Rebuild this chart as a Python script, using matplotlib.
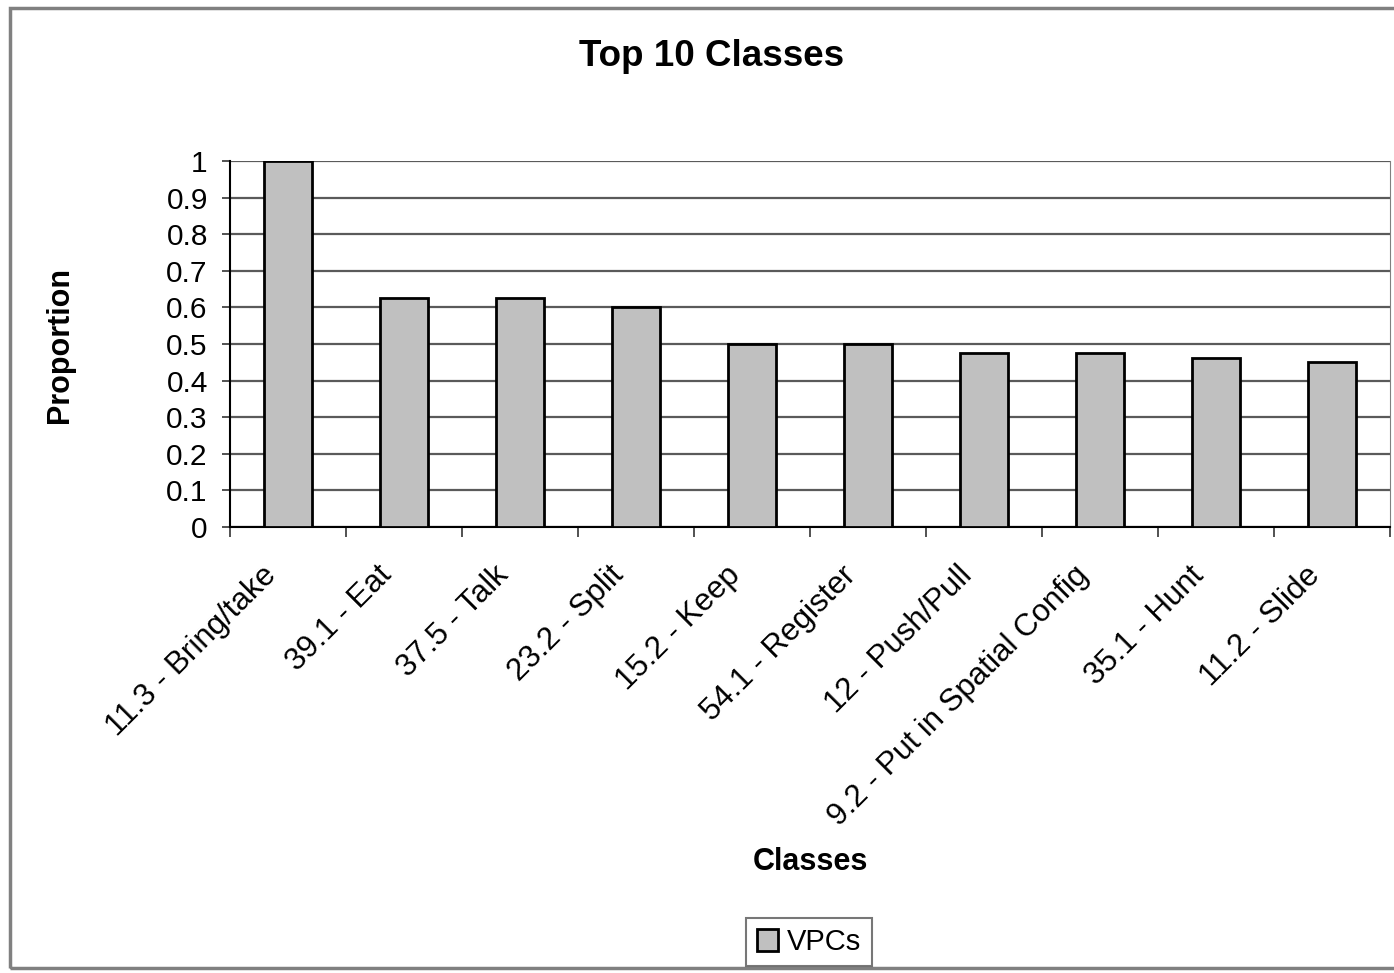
import matplotlib
matplotlib.use("Agg")
import matplotlib.pyplot as plt
from matplotlib.patches import Rectangle
from matplotlib.transforms import ScaledTranslation

categories = ["11.3 - Bring/take", "39.1 - Eat", "37.5 - Talk", "23.2 - Split", "15.2 - Keep",
              "54.1 - Register", "12 - Push/Pull", "9.2 - Put in Spatial Config", "35.1 - Hunt", "11.2 - Slide"]
values = [1.0, 0.625, 0.625, 0.6, 0.5, 0.5, 0.476, 0.476, 0.462, 0.45]
yticks = [0, 0.1, 0.2, 0.3, 0.4, 0.5, 0.6, 0.7, 0.8, 0.9, 1]
ytick_labels = ["0", "0.1", "0.2", "0.3", "0.4", "0.5", "0.6", "0.7", "0.8", "0.9", "1"]

plt.rcParams['font.family'] = ['Liberation Sans', 'DejaVu Sans']

W, H = 1394, 973
fig = plt.figure(figsize=(W / 100, H / 100), dpi=100)
fig.patch.set_facecolor("white")

# outer chart frame
fig.add_artist(Rectangle((10 / W, 1 - 968 / H), 1.2, (968 - 8) / H, transform=fig.transFigure,
                         fill=False, edgecolor="#808080", linewidth=2.5, clip_on=False))

ax = fig.add_axes([230 / W, 1 - 527 / H, (1390 - 230) / W, (527 - 161) / H])
x = list(range(len(categories)))
ax.bar(x, values, width=0.41, color="#c0c0c0", edgecolor="black", linewidth=2, zorder=3, label="VPCs")
ax.set_xlim(-0.5, len(categories) - 0.5)
ax.set_ylim(0, 1)
ax.set_yticks(yticks)
ax.set_yticklabels(ytick_labels, fontsize=21.5)
ax.yaxis.grid(True, color="#5a5a5a", linewidth=1.6, zorder=0)
ax.set_axisbelow(True)

ax.set_xticks(x)
ax.set_xticklabels(categories, rotation=45, ha="right", va="top", rotation_mode="anchor", fontsize=22.5)
ax.tick_params(axis="x", length=0, pad=24)
off = ScaledTranslation(-27 / 100, 0, fig.dpi_scale_trans)
for lbl in ax.get_xticklabels():
    lbl.set_transform(lbl.get_transform() + off)
ax.set_xticks([i - 0.5 for i in range(len(categories) + 1)], minor=True)
ax.tick_params(axis="x", which="minor", length=7, width=1.2, color="#333333")
ax.tick_params(axis="y", length=6, width=1.2, color="#333333", pad=10)

ax.spines["top"].set_visible(False)
ax.spines["right"].set_color("#808080")
ax.spines["left"].set_linewidth(1.5)
ax.spines["bottom"].set_linewidth(1.5)

fig.text(712 / W, 1 - 57 / H, "Top 10 Classes", ha="center", va="center", fontsize=26.5, fontweight="bold")
fig.text(60 / W, 1 - 345 / H, "Proportion", ha="center", va="center", rotation=90, fontsize=22, fontweight="bold")
fig.text(810 / W, 1 - 862 / H, "Classes", ha="center", va="center", fontsize=22, fontweight="bold")

leg = fig.legend(loc="center", bbox_to_anchor=(809 / W, 1 - 942 / H), fontsize=21, frameon=True,
                 fancybox=False, edgecolor="#555555", handlelength=0.75, handleheight=0.75,
                 handletextpad=0.3, borderpad=0.35)
leg.get_frame().set_linewidth(1.5)

fig.savefig("out.png", dpi=100)
